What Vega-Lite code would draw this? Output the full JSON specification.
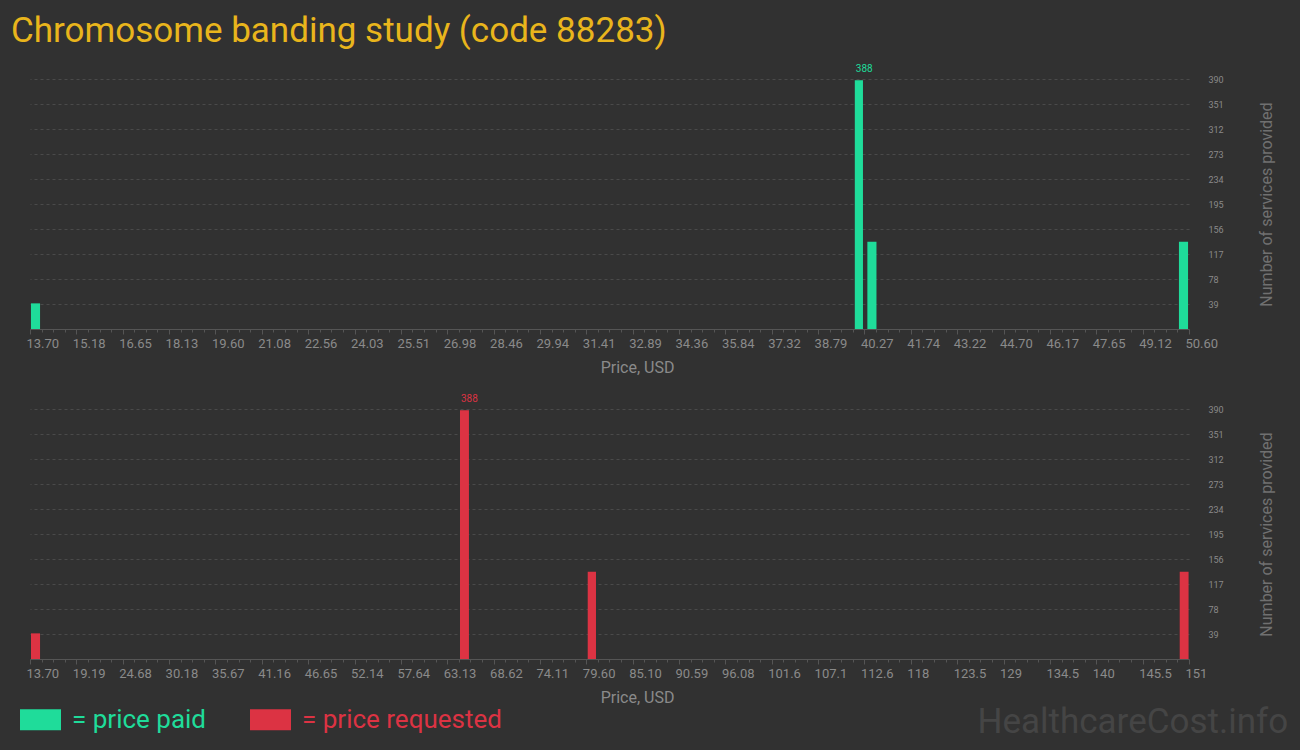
{
  "$schema": "https://vega.github.io/schema/vega-lite/v6.json",
  "background": "#313131",
  "padding": {"left": 11, "top": 14, "right": 12, "bottom": 10},
  "title": {"text": "Chromosome banding study (code 88283)", "anchor": "start", "color": "#e9b51c", "fontSize": 35, "fontWeight": "normal", "font": "Roboto", "dx": -9, "offset": 15},
  "config": {
    "view": {"stroke": null},
    "font": "Roboto",
    "axisX": {"grid": false, "domainColor": "#555555", "tickColor": "#555555", "labelColor": "#8a8a8a", "labelFontSize": 13, "labelPadding": 3, "labelAlign": "left", "labelOffset": -4, "titleColor": "#8a8a8a", "titleFontSize": 16, "titleFontWeight": "normal", "titlePadding": 9, "titleX": 607, "labelOverlap": false, "labelFlush": false, "labelBound": false},
    "axisY": {"grid": true, "gridDash": [3, 3], "gridColor": "#4a4a4a", "domain": false, "ticks": false, "labelPadding": 19, "labelFontSize": 9, "labelColor": "#8a8a8a", "titleColor": "#707070", "titleFontSize": 16, "titleFontWeight": "normal", "titleAngle": 270, "titlePadding": 51}
  },
  "datasets": {
    "paid": [
      {"series": "price paid", "start": 13.73, "end": 14.02, "count": 40},
      {"series": "price paid", "start": 39.96, "end": 40.22, "count": 388},
      {"series": "price paid", "start": 40.36, "end": 40.65, "count": 136},
      {"series": "price paid", "start": 50.28, "end": 50.57, "count": 136}
    ],
    "requested": [
      {"series": "price requested", "start": 13.82, "end": 14.89, "count": 40},
      {"series": "price requested", "start": 64.64, "end": 65.7, "count": 388},
      {"series": "price requested", "start": 79.77, "end": 80.75, "count": 136},
      {"series": "price requested", "start": 149.9, "end": 150.95, "count": 136}
    ]
  },
  "spacing": 19,
  "vconcat": [
    {
      "width": 1159,
      "height": 250,
      "data": {"name": "paid"},
      "encoding": {
        "x": {"field": "start", "type": "quantitative", "scale": {"domain": [13.7, 50.6], "nice": false, "zero": false},
          "axis": {"title": "Price, USD",
            "values": [13.7,14.069,14.438,14.807,15.176,15.545,15.914,16.283,16.652,17.021,17.39,17.759,18.128,18.497,18.866,19.235,19.604,19.973,20.342,20.711,21.08,21.449,21.818,22.187,22.556,22.925,23.294,23.663,24.032,24.401,24.77,25.139,25.508,25.877,26.246,26.615,26.984,27.353,27.722,28.091,28.46,28.829,29.198,29.567,29.936,30.305,30.674,31.043,31.412,31.781,32.15,32.519,32.888,33.257,33.626,33.995,34.364,34.733,35.102,35.471,35.84,36.209,36.578,36.947,37.316,37.685,38.054,38.423,38.792,39.161,39.53,39.899,40.268,40.637,41.006,41.375,41.744,42.113,42.482,42.851,43.22,43.589,43.958,44.327,44.696,45.065,45.434,45.803,46.172,46.541,46.91,47.279,47.648,48.017,48.386,48.755,49.124,49.493,49.862,50.231,50.6],
            "labelExpr": "round((datum.value - 13.7) / 0.369) % 4 === 0 ? format(datum.value, '.2f') : ''",
            "tickSize": {"condition": {"test": "round((datum.value - 13.7) / 0.369) % 4 === 0", "value": 5}, "value": 3}}},
        "y": {"field": "count", "type": "quantitative", "scale": {"domain": [0, 390], "nice": false},
          "axis": {"orient": "right", "values": [39, 78, 117, 156, 195, 234, 273, 312, 351, 390], "title": "Number of services provided"}},
        "color": {"field": "series", "type": "nominal", "scale": {"domain": ["price paid", "price requested"], "range": ["#1fdc9a", "#dc3343"]},
          "legend": {"orient": "none", "legendX": -10, "legendY": 620, "direction": "horizontal", "title": null, "symbolType": "M-1,-0.51H1V0.51H-1Z", "symbolSize": 1681, "symbolStrokeWidth": 0, "symbolOpacity": 1, "labelFontSize": 26, "labelOffset": 11, "columnPadding": 43, "labelLimit": 400, "labelExpr": "'= ' + datum.label", "labelColor": {"expr": "datum.value === 'price paid' ? '#1fdc9a' : '#dc3343'"}}}
      },
      "layer": [
        {"mark": {"type": "bar", "opacity": 1}, "encoding": {"x2": {"field": "end"}, "y2": {"datum": 0}}},
        {"transform": [{"joinaggregate": [{"op": "max", "field": "count", "as": "maxc"}]}, {"filter": "datum.count === datum.maxc"}],
          "mark": {"type": "text", "align": "left", "baseline": "bottom", "dy": -6, "dx": 1, "fontSize": 10},
          "encoding": {"text": {"field": "count", "type": "quantitative"}}}
      ]
    },
    {
      "width": 1159,
      "height": 250,
      "data": {"name": "requested"},
      "title": {"text": "HealthcareCost.info", "orient": "bottom", "anchor": "end", "fontSize": 35, "color": "#454545", "fontWeight": "normal", "offset": 0, "dx": 14},
      "encoding": {
        "x": {"field": "start", "type": "quantitative", "scale": {"domain": [13.7, 151], "nice": false, "zero": false},
          "axis": {"title": "Price, USD",
            "values": [13.7,15.073,16.446,17.819,19.192,20.565,21.938,23.311,24.684,26.057,27.43,28.803,30.176,31.549,32.922,34.295,35.668,37.041,38.414,39.787,41.16,42.533,43.906,45.279,46.652,48.025,49.398,50.771,52.144,53.517,54.89,56.263,57.636,59.009,60.382,61.755,63.128,64.501,65.874,67.247,68.62,69.993,71.366,72.739,74.112,75.485,76.858,78.231,79.604,80.977,82.35,83.723,85.096,86.469,87.842,89.215,90.588,91.961,93.334,94.707,96.08,97.453,98.826,100.199,101.572,102.945,104.318,105.691,107.064,108.437,109.81,111.183,112.556,113.929,115.302,116.675,118.048,119.421,120.794,122.167,123.54,124.913,126.286,127.659,129.032,130.405,131.778,133.151,134.524,135.897,137.27,138.643,140.016,141.389,142.762,144.135,145.508,146.881,148.254,149.627,151],
            "labelExpr": "round((datum.value - 13.7) / 1.373) % 4 === 0 ? (datum.value < 100 ? format(datum.value, '.2f') : format(datum.value, '.4~r')) : ''",
            "tickSize": {"condition": {"test": "round((datum.value - 13.7) / 1.373) % 4 === 0", "value": 5}, "value": 3}}},
        "y": {"field": "count", "type": "quantitative", "scale": {"domain": [0, 390], "nice": false},
          "axis": {"orient": "right", "values": [39, 78, 117, 156, 195, 234, 273, 312, 351, 390], "title": "Number of services provided"}},
        "color": {"field": "series", "type": "nominal", "scale": {"domain": ["price paid", "price requested"], "range": ["#1fdc9a", "#dc3343"]}}
      },
      "layer": [
        {"mark": {"type": "bar", "opacity": 1}, "encoding": {"x2": {"field": "end"}, "y2": {"datum": 0}}},
        {"transform": [{"joinaggregate": [{"op": "max", "field": "count", "as": "maxc"}]}, {"filter": "datum.count === datum.maxc"}],
          "mark": {"type": "text", "align": "left", "baseline": "bottom", "dy": -6, "dx": 1, "fontSize": 10},
          "encoding": {"text": {"field": "count", "type": "quantitative"}}}
      ]
    }
  ]
}
